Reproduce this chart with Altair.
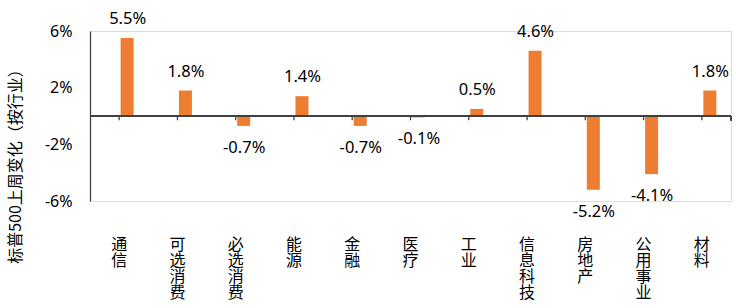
import altair as alt
import pandas as pd

categories = ["通信", "可选消费", "必选消费", "能源", "金融", "医疗", "工业", "信息科技", "房地产", "公用事业", "材料"]
values = [5.5, 1.8, -0.7, 1.4, -0.7, -0.1, 0.5, 4.6, -5.2, -4.1, 1.8]
y_ticks = [-6, -2, 2, 6]

df = pd.DataFrame({"cat": categories, "v": values})

W, H = 641, 170
ORANGE = "#ED7D31"
AXC = "#404040"
NUM_FONT = "Noto Sans"
CJK_FONT = "Noto Sans CJK SC"

x_enc = alt.X("cat:N", sort=categories, scale=alt.Scale(paddingInner=0, paddingOuter=0),
              axis=alt.Axis(title=None, domain=False, ticks=False, labelAngle=0,
                            labelExpr="split(datum.label, '')", labelFont=CJK_FONT,
                            labelFontSize=16, labelLineHeight=16, labelColor="#000000",
                            labelPadding=35, labelBaseline="top"))
y_scale = alt.Scale(domain=[-6, 6], nice=False, zero=False)
y_enc = alt.Y("v:Q", scale=y_scale,
              axis=alt.Axis(values=y_ticks, labelExpr="datum.value + '%'", grid=False,
                            ticks=False, domainColor=AXC, domainWidth=1.3,
                            labelFont=NUM_FONT, labelFontSize=16, labelColor="#000000",
                            labelPadding=18,
                            title="标普500上周变化（按行业）", titleFont=CJK_FONT,
                            titleFontSize=16, titleFontWeight="normal", titleColor="#000000",
                            titleX=-75, titleY=131, titleBaseline="middle", titleAngle=-90))

base = alt.Chart(df)

bars = base.mark_bar(color=ORANGE, width=13, xOffset=8).encode(x=x_enc, y=y_enc)

lab = base.transform_calculate(
    t="(datum.v < 0 ? '-' : '') + format(abs(datum.v), '.1f') + '%'")
pos_text = lab.transform_filter("datum.v >= 0").mark_text(
    font=NUM_FONT, fontSize=16.5, color="#000000", baseline="alphabetic", dy=-14, dx=8.5
).encode(x=alt.X("cat:N", sort=categories), y=alt.Y("v:Q", scale=y_scale), text="t:N")
neg_text = lab.transform_filter("datum.v < 0").mark_text(
    font=NUM_FONT, fontSize=16.5, color="#000000", baseline="alphabetic", dy=27, dx=8.5
).encode(x=alt.X("cat:N", sort=categories), y=alt.Y("v:Q", scale=y_scale), text="t:N")

zero_line = base.mark_rule(color=AXC, strokeWidth=1.3).encode(
    y=alt.datum(0, scale=y_scale), x=alt.value(0), x2=alt.value(W))
ticks = base.mark_rule(color=AXC, strokeWidth=1.3).encode(
    x=alt.X("cat:N", sort=categories), y=alt.datum(0), y2=alt.datum(-0.3))
end_tick = base.mark_rule(color=AXC, strokeWidth=1.3).encode(
    x=alt.value(W), y=alt.datum(0), y2=alt.datum(-0.3))

chart = alt.layer(bars, zero_line, ticks, end_tick, pos_text, neg_text).properties(
    width=W, height=H,
    autosize=alt.AutoSizeParams(type="none"),
    padding={"left": 90, "top": 31, "right": 5, "bottom": 107},
).configure_view(stroke=None).configure(background="white")

chart.save("out.html", embed_options={"renderer": "svg", "actions": False})
